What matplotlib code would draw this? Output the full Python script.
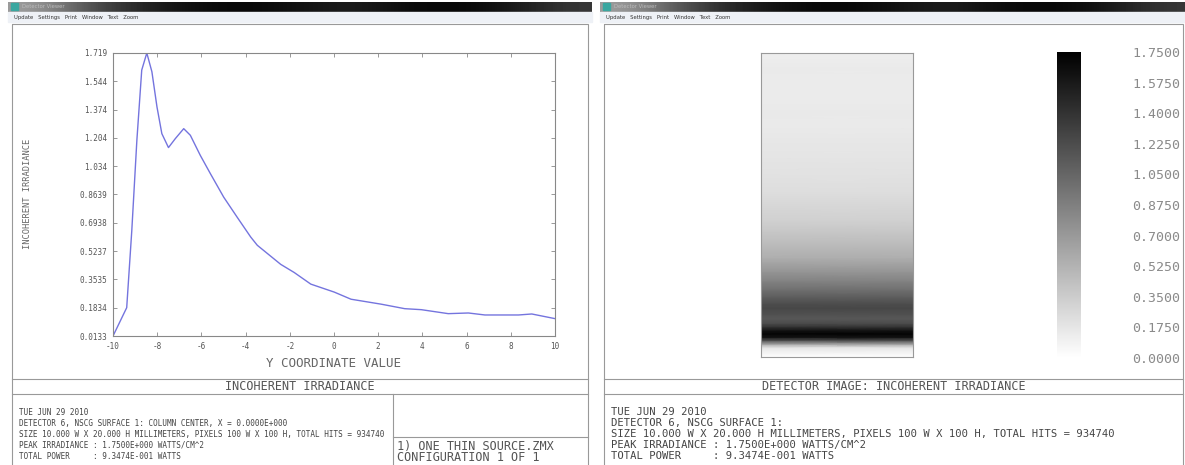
import numpy as np
import matplotlib.pyplot as plt
from matplotlib.patches import Rectangle
from matplotlib.cm import ScalarMappable
from matplotlib.colors import Normalize

W, H = 1185, 465
MONO = 'DejaVu Sans Mono'

# column-center irradiance profile: Y coordinate (mm) vs irradiance (W/cm^2)
y_coord = [-10.0, -9.38, -9.15, -8.92, -8.70, -8.47, -8.24, -8.01, -7.79,
           -7.49, -7.18, -6.80, -6.50, -6.05, -5.59, -4.99, -4.38, -3.77,
           -3.47, -2.41, -1.80, -1.05, 0.01, 0.77, 2.14, 3.20, 3.95, 5.17,
           6.08, 6.83, 8.35, 8.95, 10.0]
irradiance = [0.013, 0.184, 0.648, 1.193, 1.616, 1.719, 1.606, 1.394, 1.233,
              1.149, 1.203, 1.263, 1.223, 1.102, 0.991, 0.850, 0.729, 0.610,
              0.560, 0.445, 0.396, 0.326, 0.278, 0.235, 0.205, 0.178, 0.172,
              0.148, 0.152, 0.140, 0.140, 0.146, 0.118]

x_ticks = [-10, -8, -6, -4, -2, 0, 2, 4, 6, 8, 10]
x_tick_labels = ['-10', '-8', '-6', '-4', '-2', '0', '2', '4', '6', '8', '10']
y_min, y_max = 0.0133, 1.719
y_tick_labels = ['0.0133', '0.1834', '0.3535', '0.5237', '0.6938', '0.8639',
                 '1.034', '1.204', '1.374', '1.544', '1.719']

cbar_ticks = [0.0, 0.175, 0.35, 0.525, 0.7, 0.875, 1.05, 1.225, 1.4, 1.575, 1.75]
peak_irr = 1.75

date_line = 'TUE JUN 29 2010'
size_line = 'SIZE 10.000 W X 20.000 H MILLIMETERS, PIXELS 100 W X 100 H, TOTAL HITS = 934740'
peak_line = 'PEAK IRRADIANCE : 1.7500E+000 WATTS/CM^2'
power_line = 'TOTAL POWER     : 9.3474E-001 WATTS'
left_info = [date_line,
             'DETECTOR 6, NSCG SURFACE 1: COLUMN CENTER, X = 0.0000E+000',
             size_line, peak_line, power_line]
right_info = [date_line, 'DETECTOR 6, NSCG SURFACE 1:', size_line, peak_line, power_line]


def box(x0, y0, x1, y1):
    return [x0 / W, 1 - y1 / H, (x1 - x0) / W, (y1 - y0) / H]


fig = plt.figure(figsize=(W / 100, H / 100), dpi=100)
fig.patch.set_facecolor('white')

bg = fig.add_axes([0, 0, 1, 1])
bg.axis('off')

bar_shades = [0.62, 0.32, 0.14, 0.05, 0.02, 0.07, 0.12, 0.04, 0.02, 0.09, 0.22]


def draw_window(x0, x1, title, info, info_size):
    # title bar + menu
    bg.imshow([bar_shades], cmap='gray', vmin=0, vmax=1, extent=(x0, x1, 12, 2),
              aspect='auto', interpolation='bicubic', zorder=1)
    bg.add_patch(Rectangle((x0 + 3, 3.5), 7, 7, color='#3aa7a0', zorder=2))
    bg.text(x0 + 14, 7, 'Detector Viewer', fontsize=3.8, color='#bbbbbb', va='center', zorder=3)
    bg.add_patch(Rectangle((x0, 12), x1 - x0, 10, color='#eef1f6', zorder=1))
    bg.text(x0 + 6, 17, 'Update   Settings   Print   Window   Text   Zoom',
            fontsize=3.8, color='#333333', va='center', zorder=3)
    # content frame
    fx0, fx1 = x0 + 4, min(x1 - 4, W - 2)
    bg.add_patch(Rectangle((fx0, 24), fx1 - fx0, H - 24 + 5, fill=False,
                           ec='#999999', lw=0.8, zorder=2))
    for yy in (379, 394):
        bg.plot([fx0, fx1], [yy, yy], color='#999999', lw=0.8, zorder=2)
    bg.text((fx0 + fx1) / 2, 386.5, title, family=MONO, fontsize=8.5,
            color='#555555', ha='center', va='center', zorder=3)
    for i, line in enumerate(info):
        bg.text(fx0 + 7, 412 + 11 * i, line, family=MONO, fontsize=info_size,
                color='#444444', va='center', zorder=3)
    return fx0, fx1


draw_window(8, 592, 'INCOHERENT IRRADIANCE', left_info, 5.5)
draw_window(600, 1190, 'DETECTOR IMAGE: INCOHERENT IRRADIANCE', right_info, 7.6)

# configuration box in the left window
bg.plot([393, 393], [394, H], color='#999999', lw=0.8, zorder=2)
bg.plot([393, 588], [437, 437], color='#999999', lw=0.8, zorder=2)
bg.text(397, 446, '1) ONE THIN SOURCE.ZMX', family=MONO, fontsize=8.6, color='#555555', va='center')
bg.text(397, 457, 'CONFIGURATION 1 OF 1', family=MONO, fontsize=8.6, color='#555555', va='center')

# axis titles
bg.text(334, 363, 'Y COORDINATE VALUE', family=MONO, fontsize=9, color='#666666',
        ha='center', va='center')
bg.text(28, 194, 'INCOHERENT IRRADIANCE', family=MONO, fontsize=6.3, color='#666666',
        ha='center', va='center', rotation=90)
bg.set_xlim(0, W)
bg.set_ylim(H, 0)

# line plot of the column profile
ax = fig.add_axes(box(113, 53, 555, 336))
ax.plot(y_coord, irradiance, color='#7474de', lw=1)
ax.set_xlim(-10, 10)
ax.set_ylim(y_min, y_max)
ax.set_xticks(x_ticks)
ax.set_xticklabels(x_tick_labels)
ax.set_yticks(np.linspace(y_min, y_max, len(y_tick_labels)))
ax.set_yticklabels(y_tick_labels)
ax.tick_params(direction='in', length=3, width=0.6, color='#888888', labelsize=5.5,
               labelcolor='#555555', top=True, right=True, pad=4)
for lbl in ax.get_xticklabels() + ax.get_yticklabels():
    lbl.set_family(MONO)
for sp in ax.spines.values():
    sp.set_color('#888888')
    sp.set_linewidth(0.8)

# detector image built from the same profile
dax = fig.add_axes(box(761, 53, 913, 357))
gx, gy = np.meshgrid([-5, 5], y_coord)
gc = np.column_stack([irradiance, irradiance])
dax.pcolormesh(gx, gy, gc, shading='gouraud', cmap='gray_r', vmin=0, vmax=peak_irr)
dax.set_xlim(-5, 5)
dax.set_ylim(-10, 10)
dax.set_xticks([])
dax.set_yticks([])
for sp in dax.spines.values():
    sp.set_color('#999999')
    sp.set_linewidth(0.8)

# legend bar
cax = fig.add_axes(box(1057, 52, 1081, 358))
sm = ScalarMappable(norm=Normalize(0, peak_irr), cmap='gray_r')
cb = fig.colorbar(sm, cax=cax, ticks=cbar_ticks)
cb.outline.set_visible(False)
cb.ax.set_yticklabels(['%.4f' % t for t in cbar_ticks])
cax.tick_params(length=0, pad=37, labelsize=9.5, labelcolor='#8a8a8a')
for lbl in cax.get_yticklabels():
    lbl.set_family(MONO)

fig.savefig('out.png', dpi=100)
